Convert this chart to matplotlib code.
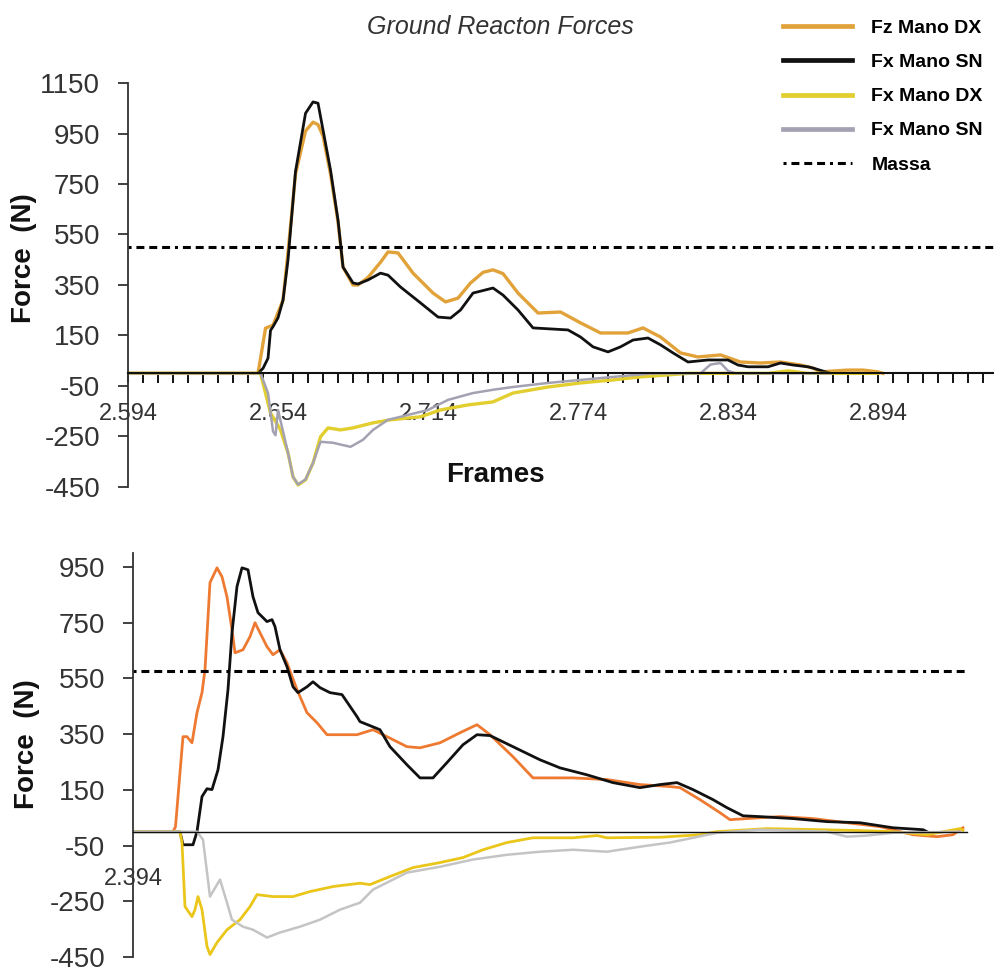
import matplotlib
matplotlib.use('Agg')
import matplotlib.pyplot as plt

# ---- top trial (Frames ~ seconds) ----
TOP_FZ_DX_T = [2.594, 2.646, 2.649, 2.652, 2.656, 2.658, 2.661, 2.665, 2.668, 2.670, 2.672, 2.675,
               2.678, 2.680, 2.684, 2.686, 2.690, 2.695, 2.698, 2.702, 2.708, 2.716, 2.721, 2.726,
               2.731, 2.736, 2.740, 2.744, 2.750, 2.758, 2.767, 2.775, 2.783, 2.794, 2.800, 2.807,
               2.815, 2.822, 2.831, 2.839, 2.847, 2.855, 2.863, 2.868, 2.871, 2.882, 2.888, 2.894, 2.896]
TOP_FZ_DX = [0, 0, 179, 191, 290, 480, 790, 960, 995, 985, 940, 790,
             600, 420, 350, 350, 380, 440, 481, 477, 397, 318, 283, 298,
             358, 400, 410, 395, 318, 239, 243, 200, 160, 160, 180, 144,
             81, 65, 73, 45, 41, 45, 33, 21, 6, 13, 13, 6, 0]

TOP_FZ_SN_T = [2.594, 2.646, 2.648, 2.650, 2.651, 2.652, 2.654, 2.656, 2.658, 2.661, 2.665, 2.668,
               2.670, 2.672, 2.675, 2.678, 2.680, 2.684, 2.686, 2.690, 2.695, 2.698, 2.703, 2.711,
               2.718, 2.723, 2.727, 2.732, 2.740, 2.744, 2.750, 2.756, 2.770, 2.775, 2.780, 2.786,
               2.791, 2.796, 2.802, 2.807, 2.812, 2.818, 2.826, 2.834, 2.838, 2.842, 2.850, 2.855,
               2.860, 2.866, 2.868, 2.875]
TOP_FZ_SN = [0, 0, 20, 60, 170, 185, 220, 290, 450, 800, 1030, 1075,
             1070, 964, 805, 607, 421, 358, 354, 370, 397, 389, 342, 279,
             223, 219, 251, 318, 338, 310, 251, 180, 172, 144, 105, 85,
             105, 132, 140, 113, 81, 45, 53, 53, 33, 26, 26, 41,
             33, 26, 21, 0]

TOP_FX_DX_T = [2.594, 2.647, 2.651, 2.655, 2.658, 2.660, 2.662, 2.665, 2.668, 2.671, 2.674, 2.679,
               2.684, 2.692, 2.699, 2.711, 2.719, 2.730, 2.740, 2.748, 2.762, 2.775, 2.788, 2.799,
               2.810, 2.818, 2.850, 2.858, 2.866, 2.894]
TOP_FX_DX = [0, 0, -157, -224, -315, -410, -442, -422, -355, -251, -216, -224,
             -216, -196, -184, -172, -145, -125, -113, -78, -54, -38, -26, -14,
             -6, 0, 0, 10, 0, 0]

TOP_FX_SN_T = [2.594, 2.647, 2.650, 2.652, 2.653, 2.654, 2.656, 2.658, 2.660, 2.662, 2.665, 2.668,
               2.671, 2.676, 2.683, 2.688, 2.692, 2.698, 2.703, 2.714, 2.722, 2.732, 2.740, 2.748,
               2.762, 2.775, 2.788, 2.804, 2.823, 2.827, 2.831, 2.834, 2.837, 2.875]
TOP_FX_SN = [0, 0, -78, -230, -245, -145, -230, -315, -410, -440, -420, -355,
             -271, -275, -291, -263, -224, -184, -172, -145, -105, -78, -65, -54,
             -38, -26, -14, 0, 0, 35, 41, 10, 0, 0]

TOP_MASSA = 500

# ---- bottom trial ----
BOT_FZ_DX_T = [2.394, 2.410, 2.411, 2.414, 2.4156, 2.4176, 2.4196, 2.4216, 2.4228, 2.4248, 2.4276,
               2.4296, 2.4316, 2.4336, 2.4348, 2.438, 2.4408, 2.4428, 2.4448, 2.4476, 2.450, 2.4528,
               2.4556, 2.4596, 2.4636, 2.4676, 2.4716, 2.4836, 2.490, 2.4956, 2.5036, 2.5088, 2.5168,
               2.5248, 2.5316, 2.5368, 2.546, 2.554, 2.570, 2.5836, 2.5968, 2.6088, 2.6128, 2.6208,
               2.6288, 2.6328, 2.6448, 2.6528, 2.666, 2.6796, 2.6928, 2.706, 2.7156, 2.722, 2.7248,
               2.726]
BOT_FZ_DX = [0, 0, 18, 341, 341, 319, 427, 499, 581, 894, 947,
             915, 843, 725, 642, 653, 700, 750, 714, 664, 635, 653,
             606, 510, 427, 391, 348, 348, 366, 341, 305, 301, 319,
             355, 384, 348, 269, 193, 193, 187, 169, 162, 158, 115,
             68, 43, 50, 54, 47, 32, 18, -11, -18, -11, 7,
             14]

BOT_FZ_SN_T = [2.394, 2.4128, 2.414, 2.418, 2.4196, 2.4216, 2.4236, 2.4256, 2.428, 2.430, 2.432,
               2.4336, 2.4356, 2.4376, 2.440, 2.442, 2.444, 2.4476, 2.4496, 2.4508, 2.4528, 2.4556,
               2.458, 2.460, 2.4636, 2.466, 2.4688, 2.4728, 2.4776, 2.4836, 2.4848, 2.4928, 2.4968,
               2.5036, 2.5088, 2.514, 2.5196, 2.526, 2.5316, 2.5368, 2.546, 2.5568, 2.5648, 2.5756,
               2.586, 2.5968, 2.6048, 2.6116, 2.618, 2.626, 2.6316, 2.638, 2.6448, 2.658, 2.6716,
               2.6848, 2.698, 2.710, 2.7116]
BOT_FZ_SN = [0, 0, -47, -47, 0, 126, 154, 151, 222, 341, 510,
             714, 880, 947, 940, 843, 786, 754, 761, 736, 653, 592,
             520, 499, 520, 538, 517, 499, 492, 413, 395, 366, 305,
             240, 193, 193, 248, 312, 348, 345, 305, 258, 229, 204,
             176, 158, 169, 176, 151, 115, 86, 57, 54, 47, 36,
             32, 14, 7, 0]

BOT_FX_DX_T = [2.394, 2.4128, 2.4136, 2.4148, 2.4176, 2.4188, 2.420, 2.4216, 2.4236, 2.4248, 2.4276,
               2.4316, 2.4368, 2.4408, 2.4436, 2.450, 2.458, 2.4648, 2.474, 2.4848, 2.4888, 2.4968,
               2.506, 2.5168, 2.526, 2.534, 2.5436, 2.554, 2.570, 2.5796, 2.5836, 2.6048, 2.6208,
               2.6276, 2.6476, 2.6848, 2.698, 2.7116, 2.7248, 2.726]
BOT_FX_DX = [0, 0, -40, -269, -305, -280, -233, -280, -412, -441, -398,
             -352, -316, -269, -226, -233, -233, -215, -197, -185, -190, -161,
             -129, -111, -93, -65, -39, -22, -22, -14, -22, -20, -11,
             0, 11, 4, 0, -11, 11, 5]

BOT_FX_SN_T = [2.394, 2.4196, 2.422, 2.4248, 2.4288, 2.4316, 2.4336, 2.438, 2.442, 2.4476, 2.4528,
               2.4608, 2.4688, 2.4768, 2.4848, 2.490, 2.5036, 2.5168, 2.530, 2.5436, 2.5568, 2.570,
               2.5836, 2.5968, 2.6088, 2.618, 2.6276, 2.6448, 2.6716, 2.6796, 2.6876, 2.698, 2.7248]
BOT_FX_SN = [0, 0, -29, -233, -172, -255, -316, -341, -352, -380, -362,
             -341, -316, -280, -255, -208, -147, -126, -100, -83, -72, -65,
             -72, -54, -39, -22, -4, 7, 0, -18, -14, -4, 0]

BOT_MASSA = 575

LABELS = ['Fz Mano DX', 'Fx Mano SN', 'Fx Mano DX', 'Fx Mano SN', 'Massa']
TOP_COLORS = ['#E2A23A', '#111111', '#E2CE2E', '#A4A2B2']
BOT_COLORS = ['#EE7A32', '#111111', '#EBC61A', '#C4C4C4']

# dash lengths are in units of line width
MASSA_DASH = (0, (1.0, 1.6, 2.6, 1.6, 2.6, 1.6, 2.6, 1.6))
TICK_FONT = {'family': 'Liberation Sans', 'size': 20, 'color': '#333333'}
LABEL_FONT = {'family': 'Liberation Sans', 'size': 20, 'weight': 'bold', 'color': '#111111'}


def style_axis(ax, yticks):
    for side in ['top', 'right']:
        ax.spines[side].set_visible(False)
    ax.spines['left'].set_color('#333333')
    ax.spines['left'].set_linewidth(1.3)
    ax.spines['bottom'].set_position(('data', 0))
    ax.spines['bottom'].set_color('#111111')
    ax.set_yticks(yticks)
    ax.set_yticklabels([str(v) for v in yticks], **TICK_FONT)
    ax.tick_params(axis='y', direction='out', length=7, width=1.3, color='#333333', pad=13)


fig = plt.figure(figsize=(9.94, 9.72), dpi=100)

# top panel
ax1 = fig.add_axes([0.1288, 0.499, 0.8712, 0.4156])
ax1.plot(TOP_FZ_DX_T, TOP_FZ_DX, color=TOP_COLORS[0], lw=2.4, label=LABELS[0])
ax1.plot(TOP_FZ_SN_T, TOP_FZ_SN, color=TOP_COLORS[1], lw=2.0, label=LABELS[1])
ax1.plot(TOP_FX_DX_T, TOP_FX_DX, color=TOP_COLORS[2], lw=2.4, label=LABELS[2])
ax1.plot(TOP_FX_SN_T, TOP_FX_SN, color=TOP_COLORS[3], lw=1.8, label=LABELS[3])
ax1.axhline(TOP_MASSA, color='black', lw=2.2, linestyle=MASSA_DASH, label=LABELS[4])
ax1.set_xlim(2.594, 2.9404)
ax1.set_ylim(-450, 1150)
style_axis(ax1, list(range(1150, -451, -200)))
ax1.spines['bottom'].set_linewidth(1.5)
ax1.set_xticks([2.594 + 0.06 * i for i in range(6)])
ax1.set_xticklabels(['2.594', '2.654', '2.714', '2.774', '2.834', '2.894'],
                    family='Liberation Sans', size=17, color='#333333')
ax1.set_xticks([2.594 + 0.006 * i for i in range(58)], minor=True)
ax1.tick_params(axis='x', which='both', direction='out', length=7, width=1.4, color='#111111', pad=14)
ax1.set_xlabel('Frames', **LABEL_FONT)
ax1.xaxis.set_label_coords(0.424, 0.062)
ax1.set_ylabel('Force  (N)', **LABEL_FONT)
ax1.yaxis.set_label_coords(-0.105, 0.567)

# bottom panel
ax2 = fig.add_axes([0.1338, 0.0154, 0.8390, 0.4156])
ax2.plot(BOT_FZ_DX_T, BOT_FZ_DX, color=BOT_COLORS[0], lw=2.0)
ax2.plot(BOT_FZ_SN_T, BOT_FZ_SN, color=BOT_COLORS[1], lw=2.0)
ax2.plot(BOT_FX_DX_T, BOT_FX_DX, color=BOT_COLORS[2], lw=2.0)
ax2.plot(BOT_FX_SN_T, BOT_FX_SN, color=BOT_COLORS[3], lw=1.8)
ax2.axhline(BOT_MASSA, color='black', lw=2.2, linestyle=MASSA_DASH)
ax2.set_xlim(2.394, 2.7276)
ax2.set_ylim(-450, 1000)
style_axis(ax2, list(range(950, -451, -200)))
ax2.spines['bottom'].set_linewidth(1.0)
ax2.set_xticks([2.394])
ax2.set_xticklabels(['2.394'], family='Liberation Sans', size=17, color='#333333')
ax2.tick_params(axis='x', length=0, pad=26)
ax2.set_ylabel('Force  (N)', **LABEL_FONT)
ax2.yaxis.set_label_coords(-0.111, 0.527)

fig.text(0.503, 0.972, 'Ground Reacton Forces', family='Liberation Sans', style='italic',
         size=18, color='#333333', ha='center', va='center')

handles, labels = ax1.get_legend_handles_labels()
leg = fig.legend(handles, labels, loc='upper left', bbox_to_anchor=(0.770, 0.998), frameon=False,
                 prop={'family': 'Liberation Sans', 'weight': 'bold', 'size': 14},
                 handlelength=3.55, handletextpad=1.0, labelspacing=0.85)
for line in leg.get_lines()[:4]:
    line.set_linewidth(3.4)

fig.savefig('out.png', dpi=100, facecolor='white')
